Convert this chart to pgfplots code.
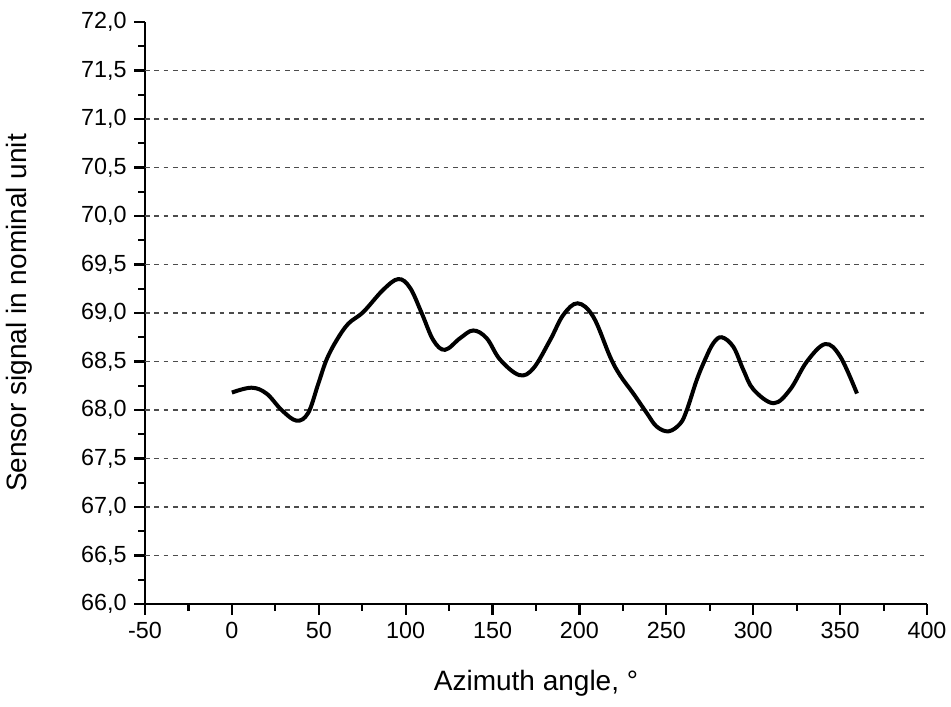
\documentclass[border=0pt]{standalone}
\usepackage{pgfplots}
\pgfplotsset{compat=1.18}
\usetikzlibrary{calc}
\usepackage{fontspec}
\setmainfont{Liberation Sans}
\begin{document}
\fontsize{17}{20}\selectfont
\begin{tikzpicture}
\begin{axis}[
  name=ax,
  scale only axis,
  width=586.5pt, height=436.5pt,
  xmin=-50, xmax=400, ymin=66, ymax=72,
  axis x line=bottom, axis y line=left,
  axis line style={line width=1.8pt, -},
  xtick={-50,0,...,400},
  ytick={66,66.5,...,72},
  minor x tick num=1, minor y tick num=1,
  tick style={line width=1.6pt, black},
  tick align=outside,
  major tick length=8pt, minor tick length=5pt,
  x tick label style={/pgf/number format/.cd, fixed, precision=0},
  y tick label style={/pgf/number format/.cd, fixed, fixed zerofill, precision=1, use comma},
  /pgf/number format/assume math mode=true,
  /pgf/number format/1000 sep={},
  tick label style={font=\fontsize{17.5}{20}\selectfont},
  label style={font=\fontsize{21}{24}\selectfont},
  xlabel={Azimuth angle, °},
  ylabel={Sensor signal in nominal unit},
  xlabel style={yshift=-12pt},
  ylabel style={yshift=17pt},
  extra y ticks={66.5,67,67.5,68,68.5,69,69.5,70,70.5,71,71.5},
  extra y tick labels={},
  extra y tick style={grid=major, major tick length=0pt},
  grid style={black!70, dash pattern=on 3.5pt off 3.5pt, line width=0.9pt},
  clip=false,
]
\addplot[black, line width=3pt, smooth, tension=0.6] coordinates {
(0,68.18) (11.3,68.23) (19.9,68.17) (28.6,68.0) (37.2,67.89) (43.9,67.97)
(49.7,68.27) (54.5,68.52) (60.3,68.72) (67,68.89) (75.6,69.01) (87.1,69.24)
(95.8,69.35) (102.5,69.26) (109.2,69.0) (115.9,68.72) (122.6,68.62) (131.3,68.74)
(138.9,68.82) (146.6,68.74) (154.3,68.52) (165.4,68.36) (173.5,68.43) (183.1,68.72)
(190.7,68.98) (199,69.10) (208,68.96) (217.6,68.55) (223.3,68.36) (231,68.17) (238.7,67.97)
(244.4,67.83) (251.3,67.78) (258,67.86) (261.8,68.0) (267.5,68.31) (272.3,68.52) (277.1,68.69) (281.9,68.75)
(288.6,68.65) (294.4,68.41) (300.2,68.21) (311.7,68.07) (321.2,68.21) (330.9,68.50) (341.5,68.68)
(350.1,68.55) (359.7,68.17)
};
\end{axis}
\pgfresetboundingbox
\path[use as bounding box] ($(ax.south west)+(-108.75pt,-76.5pt)$) rectangle ($(ax.north east)+(18pt,16.5pt)$);
\end{tikzpicture}
\end{document}
